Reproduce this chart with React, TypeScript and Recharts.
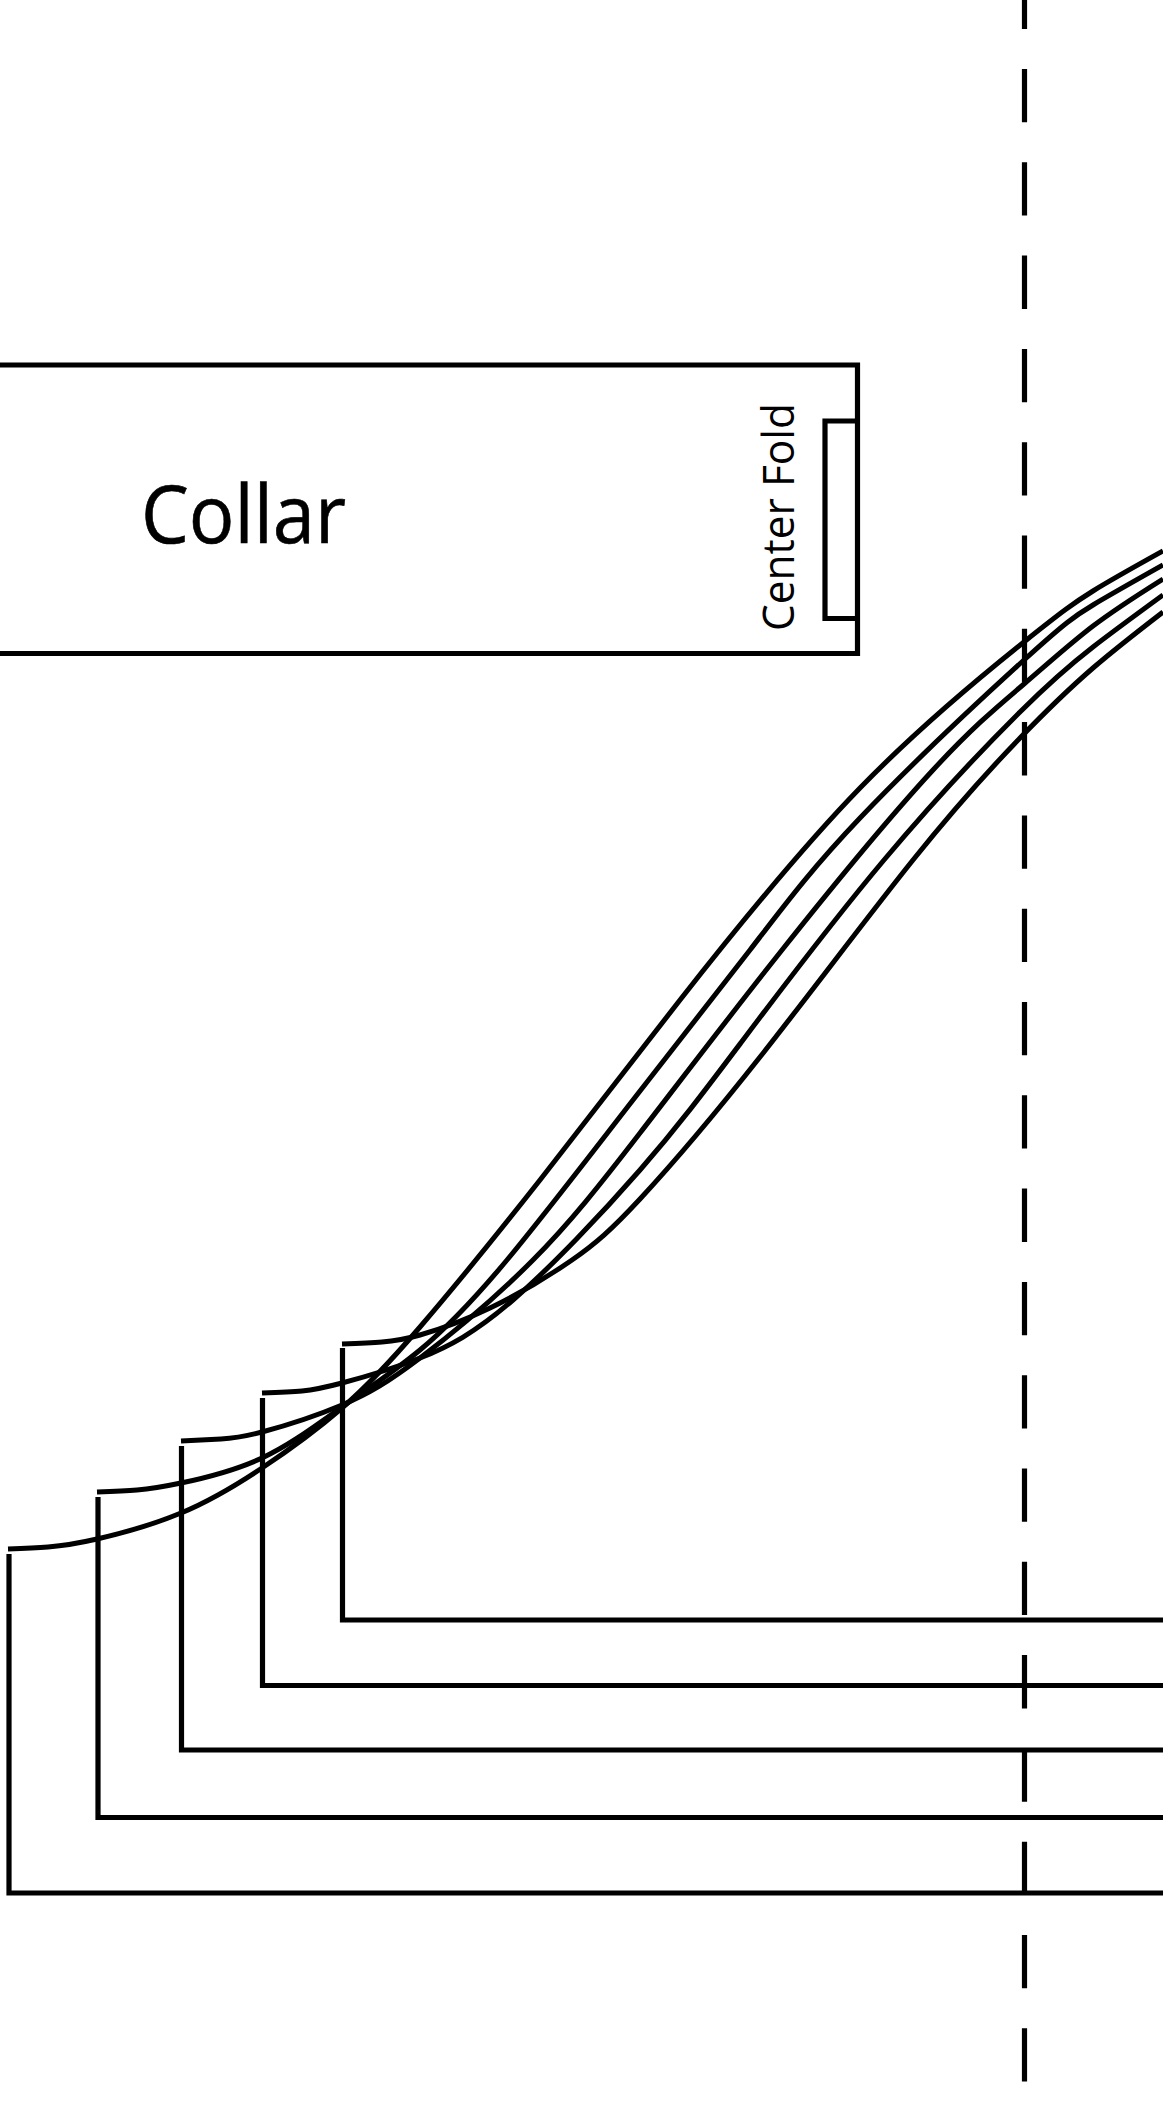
import React from "react";
import { LineChart, Line, XAxis, YAxis, ReferenceDot } from "recharts";

type P = [number, number];
const WIDTH = 1163;
const HEIGHT = 2112;

const collarBox: P[] = [[0, 365], [857.5, 365], [857.5, 653.5], [0, 653.5]];
const foldBracket: P[] = [[857.5, 421], [825, 421], [825, 618.5], [857.5, 618.5]];
const centerLine: P[] = [[1024.5, 0], [1024.5, 2112]];

const curve1: P[] = [[8, 1549], [48, 1547], [97, 1539], [181, 1513], [262, 1468], [342, 1408], [420, 1327], [540, 1180], [680, 1000], [860, 788], [1024, 642], [1093, 591], [1163, 551]];
const curve2: P[] = [[97, 1492], [137, 1490], [181, 1483], [262, 1458], [342, 1407], [420, 1350], [507, 1260], [633, 1100], [750, 950], [860, 818], [1024, 660], [1093, 605], [1163, 565]];
const curve3: P[] = [[181, 1441], [221, 1439], [262, 1432], [342, 1405], [420, 1358], [533, 1260], [640, 1133], [782, 950], [933, 770], [1024, 684], [1093, 626], [1163, 579]];
const curve4: P[] = [[262, 1393], [302, 1391], [342, 1383], [420, 1358], [513, 1300], [640, 1170], [743, 1040], [884, 860], [1020, 712], [1093, 647], [1163, 595]];
const curve5: P[] = [[342, 1344], [382, 1342], [420, 1335], [490, 1308], [572, 1260], [640, 1199], [760, 1057], [913, 860], [1020, 738], [1093, 668], [1163, 612]];

const edge1: P[] = [[9, 1554], [9, 1893], [1163, 1893]];
const edge2: P[] = [[98, 1497], [98, 1817.5], [1163, 1817.5]];
const edge3: P[] = [[181.5, 1446], [181.5, 1750], [1163, 1750]];
const edge4: P[] = [[262.5, 1398], [262.5, 1685.5], [1163, 1685.5]];
const edge5: P[] = [[342.5, 1348], [342.5, 1620], [1163, 1620]];

const curves = [curve1, curve2, curve3, curve4, curve5];
const straights = [collarBox, foldBracket, edge1, edge2, edge3, edge4, edge5];

const toRows = (pts: P[]) => pts.map(([x, y]) => ({ x, y }));
const FONT = "'Open Sans', 'Noto Sans', sans-serif";

export default function App() {
  return (
    <div style={{ position: "absolute", left: 0, top: 0, width: WIDTH, height: HEIGHT, background: "#fff" }}>
      <LineChart width={WIDTH} height={HEIGHT} margin={{ top: 0, right: 0, bottom: 0, left: 0 }}>
        <XAxis dataKey="x" type="number" domain={[0, WIDTH]} hide />
        <YAxis dataKey="y" type="number" domain={[0, HEIGHT]} reversed hide />
        {straights.map((pts, i) => (
          <Line key={`s${i}`} data={toRows(pts)} dataKey="y" type="linear" stroke="#000" strokeWidth={5.2} dot={false} activeDot={false} isAnimationActive={false} />
        ))}
        {curves.map((pts, i) => (
          <Line key={`c${i}`} data={toRows(pts)} dataKey="y" type="natural" stroke="#000" strokeWidth={5} dot={false} activeDot={false} isAnimationActive={false} />
        ))}
        <Line data={toRows(centerLine)} dataKey="y" type="linear" stroke="#000" strokeWidth={5.2} strokeDasharray="53.3 40" strokeDashoffset={24.3} dot={false} activeDot={false} isAnimationActive={false} />
        <ReferenceDot x={141} y={543} r={0} shape={(p: any) => (
          <text x={p.cx} y={p.cy} fontFamily={FONT} fontSize={80} fill="#000" stroke="#000" strokeWidth={0.6} textLength={205} lengthAdjust="spacingAndGlyphs">Collar</text>
        )} />
        <ReferenceDot x={794} y={631} r={0} shape={(p: any) => (
          <text x={p.cx} y={p.cy} transform={`rotate(-90 ${p.cx} ${p.cy})`} fontFamily={FONT} fontSize={44} fill="#000" textLength={228} lengthAdjust="spacingAndGlyphs">Center Fold</text>
        )} />
      </LineChart>
    </div>
  );
}
